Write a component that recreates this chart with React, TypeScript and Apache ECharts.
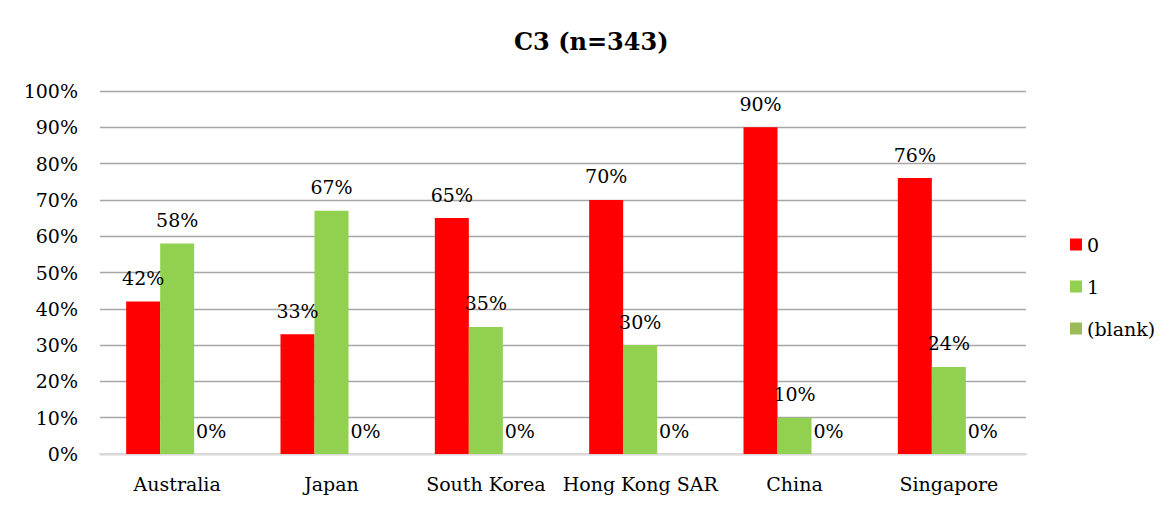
import React, { useEffect, useRef } from "react";
import * as echarts from "echarts";

const categories = ["Australia", "Japan", "South Korea", "Hong Kong SAR", "China", "Singapore"];
const series0 = [42, 33, 65, 70, 90, 76];
const series1 = [58, 67, 35, 30, 10, 24];
const seriesBlank = [0, 0, 0, 0, 0, 0];
const seriesNames = ["0", "1", "(blank)"];
const seriesColors = ["#FF0000", "#92D050", "#9BBB59"];

const FONT = "DejaVu Serif";

export default function App() {
  const ref = useRef<HTMLDivElement>(null);

  useEffect(() => {
    if (!ref.current) return;
    const chart = echarts.init(ref.current, null, { renderer: "svg" });
    const label = {
      show: true,
      position: "top" as const,
      distance: 14,
      formatter: "{c}%",
      color: "#000",
      fontFamily: FONT,
      fontSize: 19,
    };
    const values = [series0, series1, seriesBlank];
    chart.setOption({
      animation: false,
      backgroundColor: "#fff",
      title: {
        text: "C3 (n=343)",
        left: 509,
        top: 24,
        textStyle: { fontFamily: FONT, fontSize: 24, fontWeight: "bold", color: "#000" },
      },
      legend: {
        orient: "vertical",
        left: 1065,
        top: 230,
        itemWidth: 12,
        itemHeight: 12,
        itemGap: 23,
        icon: "rect",
        data: seriesNames,
        textStyle: { fontFamily: FONT, fontSize: 19, color: "#000" },
      },
      grid: { left: 100, right: 149, top: 91, bottom: 58, containLabel: false },
      xAxis: {
        type: "category",
        data: categories,
        axisTick: { show: false },
        axisLine: { lineStyle: { color: "#d9d9d9", width: 2 } },
        axisLabel: { color: "#000", fontFamily: FONT, fontSize: 19, margin: 20, interval: 0 },
      },
      yAxis: {
        type: "value",
        min: 0,
        max: 100,
        interval: 10,
        axisLine: { show: false },
        axisTick: { show: false },
        splitLine: { lineStyle: { color: "#a6a6a6", width: 1.3 } },
        axisLabel: { color: "#000", fontFamily: FONT, fontSize: 19, margin: 22, formatter: "{value}%" },
      },
      series: seriesNames.map((name, i) => ({
        name,
        type: "bar",
        data: values[i],
        barWidth: 34,
        barGap: "0%",
        itemStyle: { color: seriesColors[i] },
        label,
      })),
    });
    return () => chart.dispose();
  }, []);

  return (
    <div
      style={{
        position: "absolute",
        left: 0,
        top: 0,
        width: 1175,
        height: 512,
        background: "#fff",
      }}
    >
      <div
        style={{
          position: "absolute",
          left: 5,
          top: 5,
          width: 1164,
          height: 504,
          border: "1px solid #d9d9d9",
        }}
      />
      <div ref={ref} style={{ position: "absolute", left: 0, top: 0, width: 1175, height: 512 }} />
    </div>
  );
}
